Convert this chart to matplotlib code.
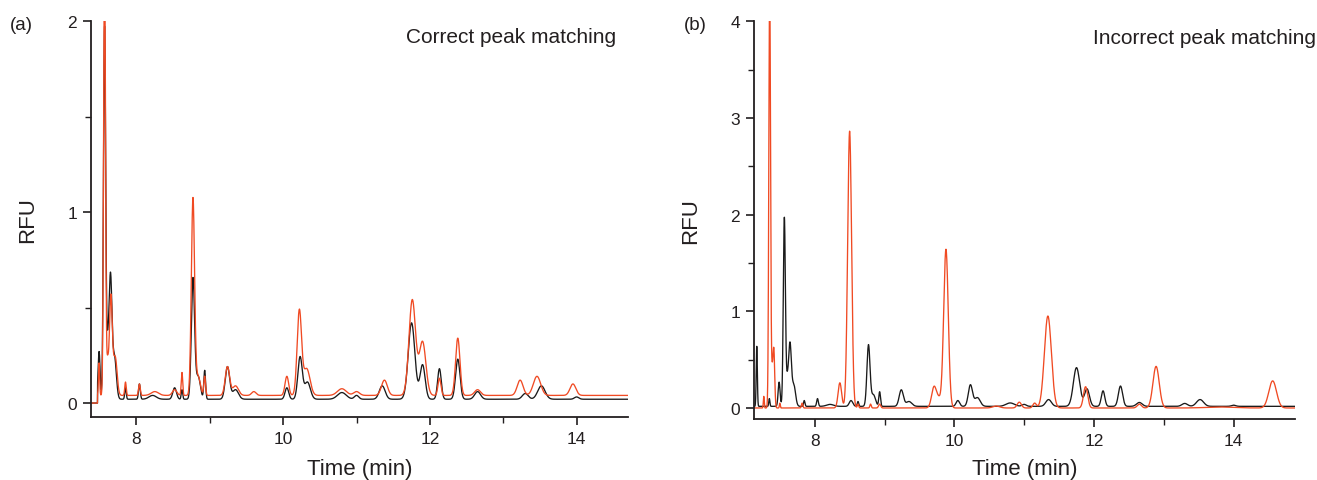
import numpy as np
import matplotlib
matplotlib.use("Agg")
import matplotlib.pyplot as plt
from matplotlib.ticker import MultipleLocator

plt.rcParams['font.family'] = ['Liberation Sans', 'DejaVu Sans']

# peak tables: centre (min), height (RFU), sigma (min)
black_t = [7.17, 7.35, 7.49, 7.565, 7.605, 7.645, 7.70, 7.85, 8.04, 8.22, 8.52, 8.62,
           8.77, 8.84, 8.93, 9.24, 9.35, 10.05, 10.23, 10.33, 10.80, 11.00, 11.35,
           11.75, 11.90, 12.13, 12.38, 12.65, 13.30, 13.52, 14.00]
black_h = [0.62, 0.08, 0.25, 1.95, 0.22, 0.64, 0.22, 0.06, 0.08, 0.02, 0.06, 0.05,
           0.63, 0.12, 0.15, 0.17, 0.05, 0.06, 0.22, 0.09, 0.035, 0.02, 0.07,
           0.40, 0.18, 0.16, 0.21, 0.04, 0.03, 0.07, 0.012]
black_w = [0.008, 0.008, 0.014, 0.015, 0.015, 0.02, 0.025, 0.01, 0.012, 0.05, 0.025, 0.01,
           0.022, 0.03, 0.012, 0.03, 0.04, 0.025, 0.03, 0.04, 0.06, 0.03, 0.04,
           0.045, 0.035, 0.025, 0.03, 0.04, 0.04, 0.05, 0.03]
black_base = 0.02

red_a_t = [7.49, 7.565, 7.605, 7.65, 7.71, 7.85, 8.04, 8.25, 8.52, 8.62, 8.77, 8.84,
           8.93, 9.24, 9.35, 9.60, 10.05, 10.22, 10.32, 10.80, 11.00, 11.38, 11.76,
           11.90, 12.13, 12.38, 12.65, 13.23, 13.46, 13.95]
red_a_h = [0.17, 2.30, 0.15, 0.52, 0.20, 0.07, 0.06, 0.02, 0.03, 0.12, 1.03, 0.10,
           0.10, 0.15, 0.05, 0.02, 0.10, 0.44, 0.14, 0.035, 0.02, 0.08, 0.50,
           0.28, 0.09, 0.30, 0.03, 0.08, 0.10, 0.06]
red_a_w = [0.008, 0.013, 0.012, 0.02, 0.025, 0.01, 0.012, 0.05, 0.03, 0.01, 0.022, 0.03,
           0.012, 0.03, 0.04, 0.03, 0.025, 0.03, 0.045, 0.06, 0.04, 0.04, 0.045,
           0.045, 0.02, 0.03, 0.04, 0.04, 0.05, 0.04]
red_a_base = 0.04
start_a = 7.47

red_b_t = [7.27, 7.355, 7.39, 7.415, 7.50, 7.82, 8.36, 8.50, 8.62, 8.80, 8.93, 9.71,
           9.78, 9.88, 10.60, 10.93, 11.15, 11.34, 11.88, 12.65, 12.89, 13.80, 14.56]
red_b_h = [0.12, 4.40, 0.35, 0.58, 0.05, 0.05, 0.26, 2.86, 0.04, 0.04, 0.04, 0.22,
           0.08, 1.64, 0.02, 0.06, 0.05, 0.95, 0.22, 0.04, 0.43, 0.01, 0.28]
red_b_w = [0.006, 0.012, 0.012, 0.012, 0.006, 0.01, 0.025, 0.028, 0.01, 0.01, 0.015, 0.035,
           0.03, 0.033, 0.05, 0.03, 0.025, 0.05, 0.03, 0.03, 0.045, 0.2, 0.055]
red_b_base = 0.003

time = np.linspace(7.0, 15.0, 4001)


def trace(t, h, w, base, start=None):
    y = np.full_like(time, base)
    for c, a, s in zip(t, h, w):
        y += a * np.exp(-0.5 * ((time - c) / s) ** 2)
    if start is not None:
        y[time < start] = 0
    return y


black_a = trace(black_t, black_h, black_w, black_base, start_a)
red_a = trace(red_a_t, red_a_h, red_a_w, red_a_base, start_a)
black_b = trace(black_t, black_h, black_w, black_base)
red_b = trace(red_b_t, red_b_h, red_b_w, red_b_base)

red = '#f04a23'
blk = '#1a1a1a'
txt = '#231f20'

fig = plt.figure(figsize=(13.17, 4.81), dpi=100)
ax1 = fig.add_axes([0.0691, 0.131, 0.4077, 0.823])
ax2 = fig.add_axes([0.5725, 0.127, 0.4108, 0.827])

for ax, yb, yr, xl, yl, pad in [(ax1, black_a, red_a, (7.38, 14.7), (-0.073, 2.0), 9),
                                (ax2, black_b, red_b, (7.13, 14.88), (-0.11, 4.0), 7)]:
    ax.plot(time, yb, color=blk, lw=0.95)
    ax.plot(time, yr, color=red, lw=0.95)
    ax.set_xlim(*xl)
    ax.set_ylim(*yl)
    ax.spines['top'].set_visible(False)
    ax.spines['right'].set_visible(False)
    for side in ['left', 'bottom']:
        ax.spines[side].set_linewidth(1.3)
        ax.spines[side].set_color(txt)
    ax.xaxis.set_major_locator(MultipleLocator(2))
    ax.xaxis.set_minor_locator(MultipleLocator(1))
    ax.yaxis.set_major_locator(MultipleLocator(1))
    ax.yaxis.set_minor_locator(MultipleLocator(0.5))
    ax.tick_params(which='major', direction='out', length=6, width=1.2, labelsize=12.5,
                   colors=txt, pad=4)
    ax.tick_params(which='minor', direction='out', length=4, width=1.0, colors=txt)
    ax.set_xlabel('Time (min)', fontsize=16, color=txt, labelpad=pad)
    ax.set_ylabel('RFU', fontsize=16, color=txt, labelpad=21)

ax1.text(0.978, 0.96, 'Correct peak matching', transform=ax1.transAxes,
         ha='right', va='center', fontsize=15, color=txt)
ax2.text(1.039, 0.96, 'Incorrect peak matching', transform=ax2.transAxes,
         ha='right', va='center', fontsize=15, color=txt, clip_on=False)
fig.text(0.0076, 0.948, '(a)', fontsize=13.5, color=txt, va='center')
fig.text(0.519, 0.948, '(b)', fontsize=13.5, color=txt, va='center')

fig.savefig('out.png', dpi=100)
